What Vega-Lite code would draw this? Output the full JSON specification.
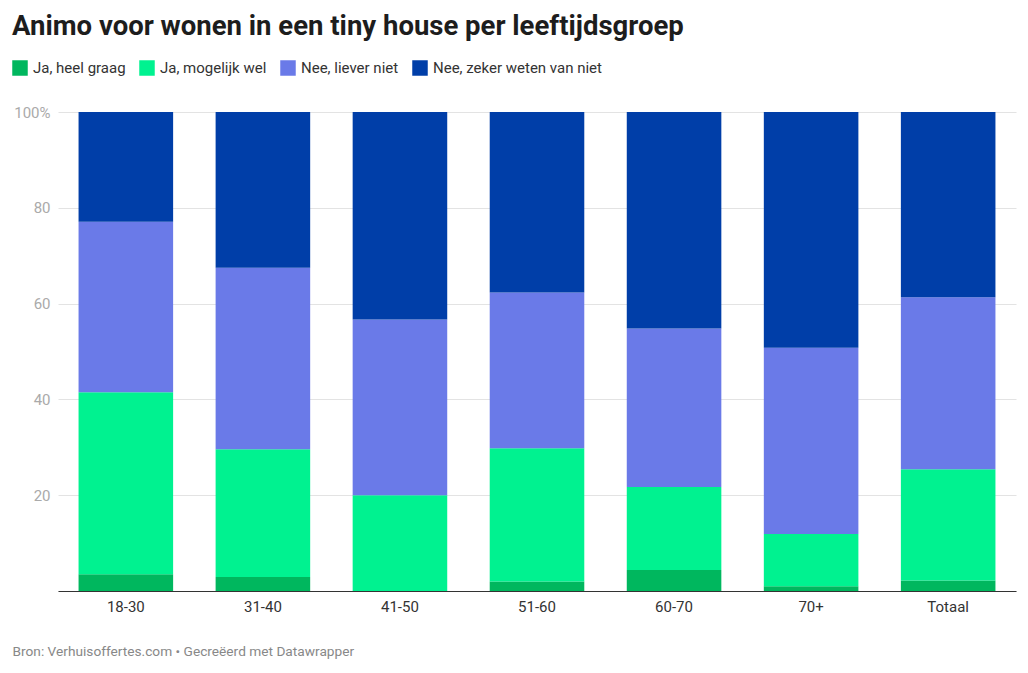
{
  "$schema": "https://vega.github.io/schema/vega-lite/v6.json",
  "width": 958,
  "height": 479,
  "padding": {"left": 12, "top": 12, "right": 10, "bottom": 10},
  "autosize": {"type": "pad"},
  "background": "white",
  "config": {"font": "Roboto", "view": {"stroke": null}},
  "title": {
    "text": "Animo voor wonen in een tiny house per leeftijdsgroep",
    "anchor": "start",
    "frame": "bounds",
    "fontSize": 27.5,
    "fontWeight": 700,
    "color": "#1d1d1d",
    "offset": 20
  },
  "data": {
    "values": [
      {"groep": "18-30", "antwoord": "Ja, heel graag", "pct": 3.5},
      {"groep": "18-30", "antwoord": "Ja, mogelijk wel", "pct": 38.0},
      {"groep": "18-30", "antwoord": "Nee, liever niet", "pct": 35.6},
      {"groep": "18-30", "antwoord": "Nee, zeker weten van niet", "pct": 22.9},
      {"groep": "31-40", "antwoord": "Ja, heel graag", "pct": 2.9},
      {"groep": "31-40", "antwoord": "Ja, mogelijk wel", "pct": 26.7},
      {"groep": "31-40", "antwoord": "Nee, liever niet", "pct": 37.9},
      {"groep": "31-40", "antwoord": "Nee, zeker weten van niet", "pct": 32.5},
      {"groep": "41-50", "antwoord": "Ja, heel graag", "pct": 0.0},
      {"groep": "41-50", "antwoord": "Ja, mogelijk wel", "pct": 20.0},
      {"groep": "41-50", "antwoord": "Nee, liever niet", "pct": 36.7},
      {"groep": "41-50", "antwoord": "Nee, zeker weten van niet", "pct": 43.3},
      {"groep": "51-60", "antwoord": "Ja, heel graag", "pct": 2.0},
      {"groep": "51-60", "antwoord": "Ja, mogelijk wel", "pct": 27.8},
      {"groep": "51-60", "antwoord": "Nee, liever niet", "pct": 32.5},
      {"groep": "51-60", "antwoord": "Nee, zeker weten van niet", "pct": 37.7},
      {"groep": "60-70", "antwoord": "Ja, heel graag", "pct": 4.4},
      {"groep": "60-70", "antwoord": "Ja, mogelijk wel", "pct": 17.3},
      {"groep": "60-70", "antwoord": "Nee, liever niet", "pct": 33.1},
      {"groep": "60-70", "antwoord": "Nee, zeker weten van niet", "pct": 45.2},
      {"groep": "70+", "antwoord": "Ja, heel graag", "pct": 1.0},
      {"groep": "70+", "antwoord": "Ja, mogelijk wel", "pct": 10.9},
      {"groep": "70+", "antwoord": "Nee, liever niet", "pct": 38.9},
      {"groep": "70+", "antwoord": "Nee, zeker weten van niet", "pct": 49.2},
      {"groep": "Totaal", "antwoord": "Ja, heel graag", "pct": 2.2},
      {"groep": "Totaal", "antwoord": "Ja, mogelijk wel", "pct": 23.2},
      {"groep": "Totaal", "antwoord": "Nee, liever niet", "pct": 35.9},
      {"groep": "Totaal", "antwoord": "Nee, zeker weten van niet", "pct": 38.7}
    ]
  },
  "mark": {"type": "bar"},
  "encoding": {
    "x": {
      "field": "groep",
      "type": "nominal",
      "sort": null,
      "scale": {"paddingInner": 0.31, "paddingOuter": 0.15},
      "axis": {
        "title": "Bron: Verhuisoffertes.com • Gecreëerd met Datawrapper",
        "titleFontSize": 13.7,
        "titleFontWeight": "normal",
        "titleColor": "#888888",
        "titleAlign": "left",
        "titleAnchor": "start",
        "titleX": -46,
        "titlePadding": 30,
        "labelAngle": 0,
        "labelFontSize": 15,
        "labelColor": "#333333",
        "labelPadding": 8,
        "ticks": false,
        "domainColor": "#333333",
        "domainWidth": 1.2
      }
    },
    "y": {
      "field": "pct",
      "type": "quantitative",
      "stack": "zero",
      "scale": {"domain": [0, 100], "nice": false},
      "axis": {
        "title": null,
        "values": [0, 20, 40, 60, 80, 100],
        "labelExpr": "datum.value == 100 ? '100%' : datum.value == 0 ? '' : datum.label",
        "labelFontSize": 15,
        "labelColor": "#aaaaaa",
        "labelPadding": 8,
        "ticks": false,
        "domain": false,
        "gridColor": "#e3e3e3",
        "gridWidth": 1
      }
    },
    "order": {"field": "antwoord", "sort": "ascending"},
    "color": {
      "field": "antwoord",
      "type": "nominal",
      "scale": {
        "domain": ["Ja, heel graag", "Ja, mogelijk wel", "Nee, liever niet", "Nee, zeker weten van niet"],
        "range": ["#00b75e", "#00f290", "#6a7ae8", "#003ea8"]
      },
      "legend": {
        "title": null,
        "orient": "none",
        "legendX": -46,
        "legendY": -52,
        "direction": "horizontal",
        "symbolType": "square",
        "symbolSize": 240,
        "symbolStrokeWidth": 0,
        "symbolOpacity": 1,
        "labelFontSize": 15,
        "labelColor": "#333333",
        "labelOffset": 5,
        "columnPadding": 13,
        "labelLimit": 300
      }
    }
  }
}
